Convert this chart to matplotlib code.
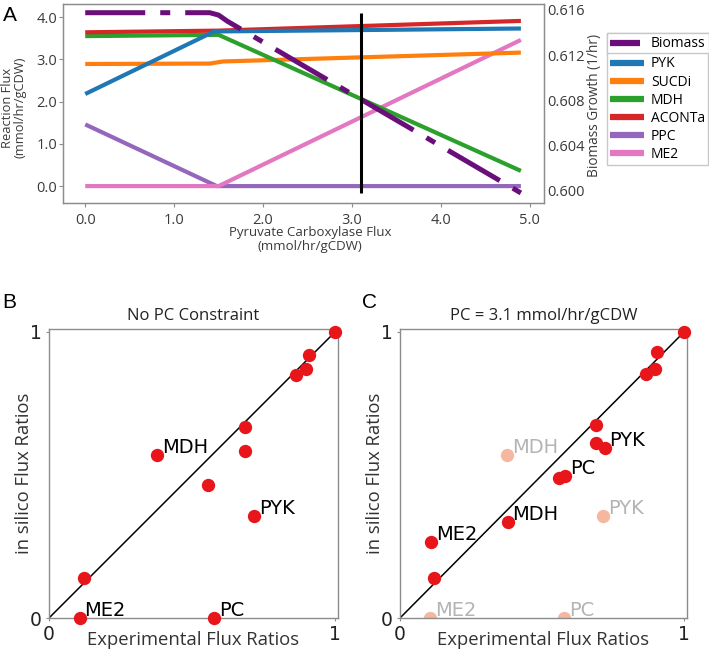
import matplotlib
matplotlib.use("Agg")
from matplotlib import pyplot as plt
from matplotlib.lines import Line2D

plt.rcParams["font.family"] = ["Open Sans", "DejaVu Sans"]

# ---- Panel A: flux scan over pyruvate carboxylase flux ----
pyk_x = [0.0, 1.45, 4.9]
pyk_y = [2.18, 3.66, 3.73]
sucdi_x = [0.0, 1.4, 1.55, 4.9]
sucdi_y = [2.89, 2.90, 2.95, 3.16]
mdh_x = [0.0, 1.5, 4.9]
mdh_y = [3.55, 3.58, 0.36]
aconta_x = [0.0, 1.5, 4.9]
aconta_y = [3.64, 3.68, 3.91]
ppc_x = [0.0, 1.48, 4.9]
ppc_y = [1.46, 0.0, 0.0]
me2_x = [0.0, 1.5, 4.9]
me2_y = [0.0, 0.0, 3.46]
biomass_x = [0.0, 1.4, 1.5, 1.6, 4.9]
biomass_y = [0.61576, 0.61576, 0.61555, 0.6150, 0.5998]
pc_constraint = 3.1

flux_ticks = [0.0, 1.0, 2.0, 3.0, 4.0]
pc_ticks = [0.0, 1.0, 2.0, 3.0, 4.0, 5.0]
growth_ticks = [0.600, 0.604, 0.608, 0.612, 0.616]

# ---- Panels B and C: experimental vs in silico flux ratios ----
exp_b = [1.0, 0.907, 0.898, 0.863, 0.685, 0.685, 0.378, 0.557, 0.716, 0.121, 0.107, 0.578]
sim_b = [1.0, 0.918, 0.869, 0.849, 0.667, 0.585, 0.569, 0.466, 0.356, 0.141, 0.0, 0.0]
names_b = ["MDH", "PYK", "ME2", "PC"]
idx_b = [6, 8, 10, 11]

exp_c = [1.0, 0.905, 0.897, 0.866, 0.689, 0.689, 0.720, 0.580, 0.558, 0.379, 0.109, 0.121]
sim_c = [1.0, 0.930, 0.869, 0.851, 0.675, 0.611, 0.593, 0.497, 0.491, 0.335, 0.267, 0.141]
names_c = ["PYK", "PC", "MDH", "ME2"]
idx_c = [6, 7, 9, 10]

W, H = 709, 670
RED = "#e8151b"
FADED = "#f6b7a0"
SPINE = "#8c8c8c"

fig = plt.figure(figsize=(W / 100, H / 100), dpi=100)


def px_axes(left, top, right, bottom):
    """axes from pixel box"""
    return fig.add_axes([left / W, 1 - bottom / H, (right - left) / W, (bottom - top) / H])


# Panel A
ax = px_axes(63, 4, 544, 203)
ax2 = ax.twinx()
ax.set_zorder(ax2.get_zorder() - 1)
ax2.patch.set_visible(False)

series = [
    (ppc_x, ppc_y, "#9467bd", "PPC"),
    (me2_x, me2_y, "#e377c2", "ME2"),
    (sucdi_x, sucdi_y, "#ff7f0e", "SUCDi"),
    (mdh_x, mdh_y, "#2ca02c", "MDH"),
    (aconta_x, aconta_y, "#d62728", "ACONTa"),
    (pyk_x, pyk_y, "#1f77b4", "PYK"),
]
for xs, ys, col, name in series:
    ax.plot(xs, ys, color=col, lw=3.0, solid_capstyle="butt")

ax2.plot(biomass_x, biomass_y, color="#6a0f7a", lw=3.6, dashes=(12, 3, 2, 3),
         dash_capstyle="butt")
ax2.vlines(pc_constraint, min(biomass_y), max(biomass_y), color="black", lw=2.2)

ax.set_xlim(-0.25, 5.16)
ax.set_ylim(-0.40, 4.31)
ax2.set_ylim(0.59891, 0.61653)
ax.set_xticks(pc_ticks)
ax.set_xticklabels(["%.1f" % t for t in pc_ticks])
ax.set_yticks(flux_ticks)
ax.set_yticklabels(["%.1f" % t for t in flux_ticks])
ax2.set_yticks(growth_ticks)
ax2.set_yticklabels(["%.3f" % t for t in growth_ticks])

for a in (ax, ax2):
    for s in a.spines.values():
        s.set_color(SPINE)
        s.set_linewidth(0.9)
ax.tick_params(axis="both", labelsize=10.5, length=3, width=0.8, color=SPINE,
               labelcolor="#3a3a3a")
ax.tick_params(axis="x", pad=4)
ax.tick_params(axis="y", pad=1)
ax2.tick_params(axis="y", labelsize=10.5, length=0, pad=2, labelcolor="#3a3a3a")

ax.set_xlabel("Pyruvate Carboxylase Flux\n(mmol/hr/gCDW)", fontsize=9.5,
              color="#3a3a3a", linespacing=1.05)
ax.xaxis.set_label_coords(0.513, -0.118)
ax.set_ylabel("Reaction Flux\n(mmol/hr/gCDW)", fontsize=9.3, color="#3a3a3a",
              linespacing=1.0)
ax.yaxis.set_label_coords(-0.075, 0.48)
ax2.set_ylabel("Biomass Growth (1/hr)", fontsize=9.8, color="#3a3a3a")
ax2.yaxis.set_label_coords(1.089, 0.49)

# legends: biomass on its own, reactions below it
leg_kw = dict(loc="upper left", fontsize=10, frameon=True, fancybox=False,
              edgecolor="#c8c8c8", framealpha=1, borderaxespad=0,
              labelspacing=0.22, borderpad=0.25)
bio_handle = [Line2D([0], [0], color="#6a0f7a", lw=4.5, solid_capstyle="butt")]
leg1 = fig.legend(bio_handle, ["Biomass"], bbox_to_anchor=(607 / W, 1 - 33 / H),
                  handlelength=2.1, handletextpad=0.8, **leg_kw)
order = ["PYK", "SUCDi", "MDH", "ACONTa", "PPC", "ME2"]
colors = {name: col for _, _, col, name in series}
rx_handles = [Line2D([0], [0], color=colors[n], lw=4.5, solid_capstyle="butt") for n in order]
leg2 = fig.legend(rx_handles, order, bbox_to_anchor=(607 / W, 1 - 53 / H),
                  handlelength=2.4, handletextpad=0.5, **leg_kw)
fig.add_artist(leg1)


def ratio_panel(axr, title, exp, sim, names, idx, faded=None):
    axr.plot([0, 1], [0, 1], color="black", lw=1.1, zorder=1)
    if faded is not None:
        fx, fy, fnames = faded
        axr.scatter(fx, fy, s=92, color=FADED, lw=0, zorder=2)
        for x, y, n in zip(fx, fy, fnames):
            axr.annotate(n, (x, y), xytext=(3.5, 1.5), textcoords="offset points",
                         fontsize=14, color="#b4b4b4", family="DejaVu Sans",
                         va="baseline", ha="left")
    axr.scatter(exp, sim, s=92, color=RED, lw=0, zorder=3, clip_on=False)
    for n, i in zip(names, idx):
        axr.annotate(n, (exp[i], sim[i]), xytext=(3.5, 1.5), textcoords="offset points",
                     fontsize=14, color="black", family="DejaVu Sans",
                     va="baseline", ha="left")
    axr.set_xlim(0, 1.01)
    axr.set_ylim(0, 1.01)
    axr.set_xticks([0, 1])
    axr.set_yticks([0, 1])
    axr.set_xticklabels(["0", "1"], family="DejaVu Sans")
    axr.set_yticklabels(["0", "1"], family="DejaVu Sans")
    axr.tick_params(labelsize=13.5, length=2, color=SPINE, pad=3, labelcolor="#222222")
    for s in axr.spines.values():
        s.set_color(SPINE)
        s.set_linewidth(1.0)
    axr.set_title(title, fontsize=12, pad=6.5, color="#222222")
    axr.set_xlabel("Experimental Flux Ratios", fontsize=13.3, color="#333333")
    axr.xaxis.set_label_coords(0.5, -0.045)
    axr.set_ylabel("in silico Flux Ratios", fontsize=13.3, color="#333333")
    axr.yaxis.set_label_coords(-0.055, 0.5)


# Panel B
axb = px_axes(49, 329, 338, 618)
ratio_panel(axb, "No PC Constraint", exp_b, sim_b, names_b, idx_b)

# Panel C: constrained fit, unconstrained outliers shown faded
axc = px_axes(400, 329, 687, 618)
faded = ([exp_b[i] for i in idx_b], [sim_b[i] for i in idx_b], names_b)
ratio_panel(axc, "PC = 3.1 mmol/hr/gCDW", exp_c, sim_c, names_c, idx_c, faded=faded)

# panel letters
for letter, x, y in [("A", 3, 6), ("B", 2, 293), ("C", 362, 293)]:
    fig.text(x / W, 1 - y / H, letter, fontsize=15, family="Liberation Sans",
             va="top", ha="left")

plt.savefig("out.png", dpi=100)
